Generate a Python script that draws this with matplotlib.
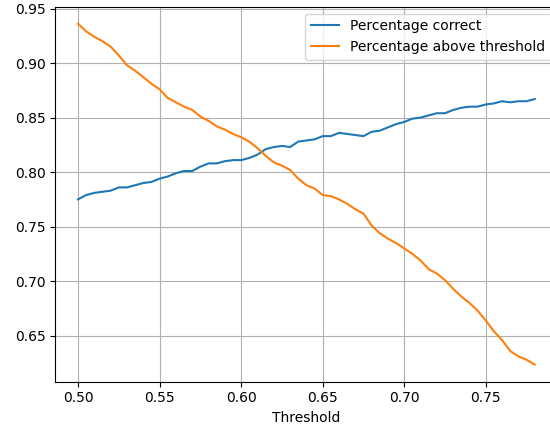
import numpy as np
import matplotlib
matplotlib.use('Agg')
import matplotlib.pyplot as plt

# Пороги и значения
thresholds = [0.500, 0.505, 0.510, 0.515, 0.520, 0.525, 0.530, 0.535, 0.540, 0.545,
              0.550, 0.555, 0.560, 0.565, 0.570, 0.575, 0.580, 0.585, 0.590, 0.595,
              0.600, 0.605, 0.610, 0.615, 0.620, 0.625, 0.630, 0.635, 0.640, 0.645,
              0.650, 0.655, 0.660, 0.665, 0.670, 0.675, 0.680, 0.685, 0.690, 0.695,
              0.700, 0.705, 0.710, 0.715, 0.720, 0.725, 0.730, 0.735, 0.740, 0.745,
              0.750, 0.755, 0.760, 0.765, 0.770, 0.775, 0.780]

pct_correct = [0.775, 0.779, 0.781, 0.782, 0.783, 0.786, 0.786, 0.788, 0.790, 0.791,
               0.794, 0.796, 0.799, 0.801, 0.801, 0.805, 0.808, 0.808, 0.810, 0.811,
               0.811, 0.813, 0.816, 0.821, 0.823, 0.824, 0.823, 0.828, 0.829, 0.830,
               0.833, 0.833, 0.836, 0.835, 0.834, 0.833, 0.837, 0.838, 0.841, 0.844,
               0.846, 0.849, 0.850, 0.852, 0.854, 0.854, 0.857, 0.859, 0.860, 0.860,
               0.862, 0.863, 0.865, 0.864, 0.865, 0.865, 0.867]

pct_above = [0.936, 0.929, 0.924, 0.920, 0.915, 0.907, 0.898, 0.893, 0.887, 0.881,
             0.876, 0.868, 0.864, 0.860, 0.857, 0.851, 0.847, 0.842, 0.839, 0.835,
             0.832, 0.828, 0.822, 0.815, 0.809, 0.806, 0.802, 0.794, 0.788, 0.785,
             0.779, 0.778, 0.775, 0.771, 0.766, 0.762, 0.751, 0.744, 0.739, 0.735,
             0.730, 0.725, 0.719, 0.711, 0.707, 0.701, 0.693, 0.686, 0.680, 0.673,
             0.664, 0.654, 0.646, 0.636, 0.631, 0.628, 0.6235]

fig = plt.figure(figsize=(5.5, 4.29), dpi=100)
ax = fig.add_axes([0.1004, 0.1103, 0.9133, 0.874])

ax.plot(thresholds, pct_correct, label='Percentage correct')
ax.plot(thresholds, pct_above, label='Percentage above threshold')
ax.set_xlabel('Threshold')
ax.grid(True)
ax.legend(loc='upper right')

fig.savefig('out.png', dpi=100)
